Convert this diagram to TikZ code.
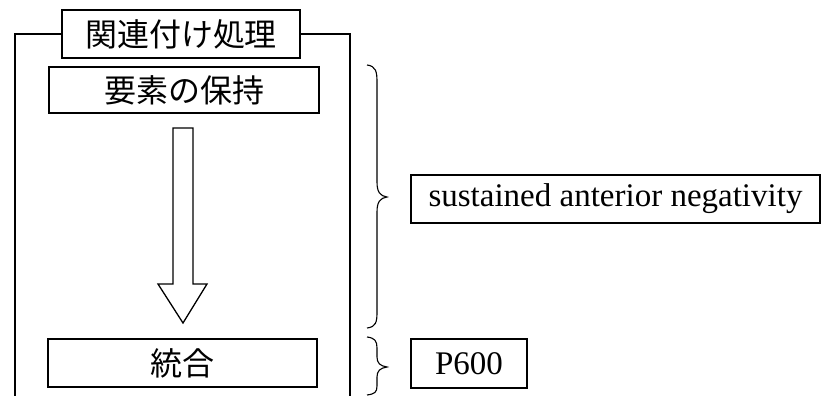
\documentclass[tikz,border=0pt]{standalone}
\usepackage{fontspec}
\setmainfont{Liberation Serif}
\newfontfamily\jp{Noto Sans CJK JP}
\newcommand{\jdown}[1]{\raisebox{-4pt}{#1}}
\begin{document}
\begin{tikzpicture}[x=1pt,y=-1pt,line width=1.3pt,
  jpbox/.style={draw,inner sep=0pt,font=\jp\fontsize{32}{32}\selectfont},
  enbox/.style={draw,inner sep=0pt,font=\fontsize{33}{33}\selectfont},
  bracepath/.style={line width=1.1pt}]
\useasboundingbox (0,0) rectangle (823,396);
% title and frame
\node[jpbox,minimum width=238pt,minimum height=48pt] (title) at (181,34) {\jdown{関連付け処理}};
\coordinate (fl) at (15,396);
\coordinate (fr) at (350,396);
\draw (fl) |- (title.west);
\draw (fr) |- (title.east);
% boxes
\node[jpbox,minimum width=270pt,minimum height=46pt] (elem) at (184,90) {\jdown{要素の保持}};
\node[jpbox,minimum width=269pt,minimum height=48pt] (integ) at (182.5,363) {\jdown{統合}};
% hollow arrow
\draw[line join=miter] (173,128) -- (193,128) -- (193,284) -- (207,284) -- (183,323) -- (158,284) -- (173,284) -- cycle;
% braces
\draw[bracepath] (367,65) .. controls (376,66) and (377,72) .. (377,82)
  -- (377,182) .. controls (377,192) and (380,196) .. (387,197)
  .. controls (380,198) and (377,202) .. (377,212)
  -- (377,312) .. controls (377,322) and (376,327) .. (367,328);
\draw[bracepath] (367,337) .. controls (375,338) and (377,341) .. (377,348)
  -- (377,357) .. controls (377,363) and (380,366) .. (387,367)
  .. controls (380,368) and (377,371) .. (377,377)
  -- (377,386) .. controls (377,392) and (375,394) .. (367,395);
% labels
\node[enbox,minimum width=409pt,minimum height=48pt] (san) at (615.5,199) {sustained anterior negativity};
\node[enbox,minimum width=116pt,minimum height=49pt] (p600) at (469,363.5) {P600};
\end{tikzpicture}
\end{document}
